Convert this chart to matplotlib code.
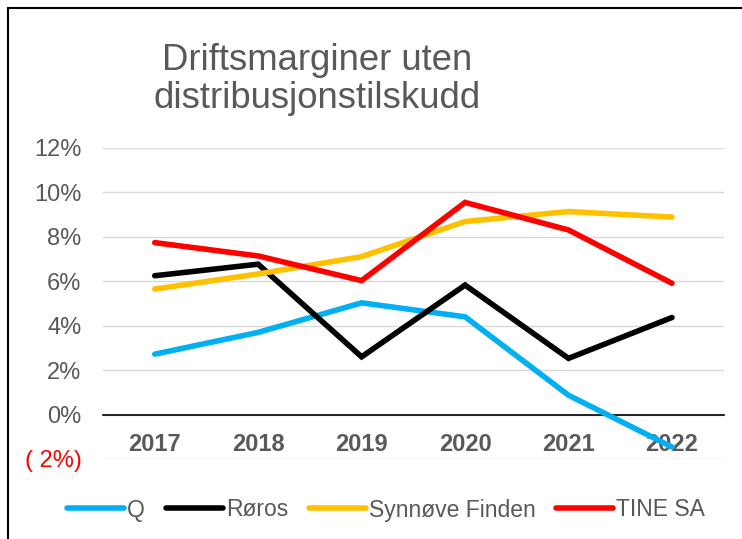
import matplotlib
matplotlib.use("Agg")
import matplotlib.pyplot as plt
from matplotlib.ticker import FixedLocator
from matplotlib.patches import Rectangle

years = ["2017", "2018", "2019", "2020", "2021", "2022"]
q = [2.72, 3.70, 5.03, 4.40, 0.87, -1.46]
roros = [6.25, 6.77, 2.60, 5.83, 2.53, 4.37]
synnove = [5.65, 6.33, 7.11, 8.69, 9.14, 8.89]
tine = [7.74, 7.14, 6.03, 9.55, 8.31, 5.91]
series_names = ["Q", "Røros", "Synnøve Finden", "TINE SA"]
series_colors = ["#00B0F0", "#000000", "#FFC000", "#FF0000"]
y_ticks = [-2, 0, 2, 4, 6, 8, 10, 12]
y_labels = ["( 2%)", "0%", "2%", "4%", "6%", "8%", "10%", "12%"]
title = "Driftsmarginer uten\ndistribusjonstilskudd"

plt.rcParams['font.family'] = ['Liberation Sans', 'DejaVu Sans']
grey = "#595959"

fig = plt.figure(figsize=(7.42, 5.39), dpi=100)
ax = fig.add_axes([103/742, 1-459/539, (723.7-103)/742, (459-148)/539])

x = list(range(len(years)))
for vals, name, col in zip([q, roros, synnove, tine], series_names, series_colors):
    ax.plot(x, vals, color=col, lw=4.0, label=name, solid_capstyle='round',
            solid_joinstyle='miter', zorder=3)

ax.set_xlim(-0.5, len(years) - 0.5)
ax.set_ylim(-2, 12)
ax.yaxis.set_major_locator(FixedLocator(y_ticks))
ax.set_yticklabels(y_labels)
ax.set_xticks(x)
ax.set_xticklabels(years)
for s in ['top', 'right', 'left']:
    ax.spines[s].set_visible(False)
ax.spines['bottom'].set_position(('data', 0))
ax.spines['bottom'].set_color('black')
ax.spines['bottom'].set_linewidth(1.2)
ax.spines['bottom'].set_zorder(2)
ax.grid(axis='y', color='#D9D9D9', lw=1.0, zorder=0)
ax.set_axisbelow(True)
ax.tick_params(axis='y', length=0, pad=15.5, labelsize=17, labelcolor=grey)
ax.tick_params(axis='x', length=0, pad=13.5, labelsize=17, labelcolor=grey)
for lbl in ax.get_xticklabels():
    lbl.set_fontweight('bold')
for lbl in ax.get_yticklabels():
    if lbl.get_text().startswith('('):
        lbl.set_color('#FF0000')

fig.text(317/742, 1-43/539, title, ha='center', va='top', fontsize=26.3,
         color=grey, linespacing=1.1)

leg = fig.legend(loc='center', bbox_to_anchor=(386/742, 1-510/539), ncol=4,
                 frameon=False, fontsize=16.5, handlelength=2.5, handletextpad=0.12,
                 columnspacing=0.9, labelcolor=grey)

fig.add_artist(Rectangle((8/742, -0.1), 1.2, 1-8/539+0.1, transform=fig.transFigure,
                         fill=False, edgecolor='black', lw=1.5))

fig.savefig("out.png", dpi=100)
